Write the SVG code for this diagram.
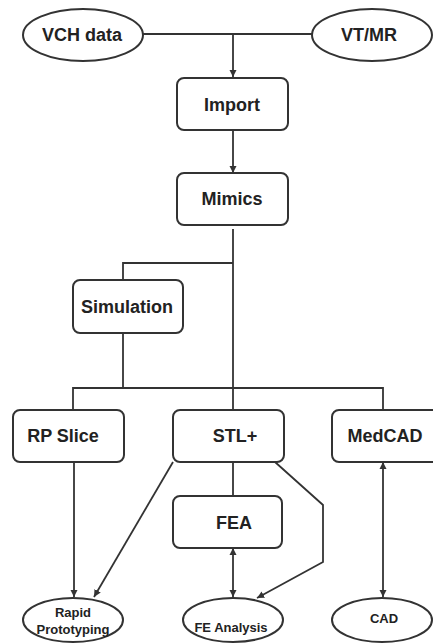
<svg xmlns="http://www.w3.org/2000/svg" width="433" height="643" viewBox="0 0 433 643">
<defs>
<style>
.box{fill:#fff;stroke:#333;stroke-width:2}
.ell{fill:#fff;stroke:#333;stroke-width:2}
.ln{fill:none;stroke:#333;stroke-width:1.8}
.t{font-family:"Liberation Sans",Arial,sans-serif;font-weight:bold;fill:#222;text-anchor:middle}
.big{font-size:18px}
.sm{font-size:13px}
</style>
<marker id="ah" viewBox="0 0 8 8" refX="8" refY="4" markerWidth="4" markerHeight="4" orient="auto-start-reverse" markerUnits="strokeWidth">
<path d="M0,0 L8,4 L0,8 Z" fill="#333"/>
</marker>
</defs>
<rect width="433" height="643" fill="#fff"/>
<g id="connectors">
<line class="ln" x1="143" y1="34" x2="312" y2="34"/>
<line class="ln" x1="233" y1="34" x2="233" y2="77" marker-end="url(#ah)"/>
<line class="ln" x1="233" y1="130" x2="233" y2="173" marker-end="url(#ah)"/>
<line class="ln" x1="233" y1="229" x2="233" y2="410"/>
<polyline class="ln" points="233,263 123,263 123,280"/>
<line class="ln" x1="123" y1="333" x2="123" y2="388"/>
<polyline class="ln" points="73,410 73,388 383,388 383,410"/>
<line class="ln" x1="74" y1="462" x2="74" y2="597" marker-end="url(#ah)"/>
<line class="ln" x1="173" y1="462" x2="94" y2="597" marker-end="url(#ah)"/>
<line class="ln" x1="233" y1="462" x2="233" y2="496"/>
<line class="ln" x1="233" y1="548" x2="233" y2="597" marker-start="url(#ah)" marker-end="url(#ah)"/>
<polyline class="ln" points="275,462 323,505 323,562 257,598" marker-end="url(#ah)"/>
<line class="ln" x1="383" y1="462" x2="383" y2="597" marker-start="url(#ah)" marker-end="url(#ah)"/>
</g>
<g id="vch">
<ellipse class="ell" cx="83" cy="35" rx="60" ry="26"/>
<text class="t big" x="82" y="41">VCH data</text>
</g>
<g id="vtmr">
<ellipse class="ell" cx="372" cy="35" rx="60" ry="26"/>
<text class="t big" x="369" y="41">VT/MR</text>
</g>
<g id="import">
<rect class="box" x="177" y="78" width="111" height="52" rx="7"/>
<text class="t big" x="232" y="111">Import</text>
</g>
<g id="mimics">
<rect class="box" x="177" y="173" width="111" height="52" rx="7"/>
<text class="t big" x="232" y="205">Mimics</text>
</g>
<g id="simulation">
<rect class="box" x="73" y="280" width="110" height="53" rx="7"/>
<text class="t big" x="127" y="313">Simulation</text>
</g>
<g id="rpslice">
<rect class="box" x="13" y="410" width="111" height="52" rx="7"/>
<text class="t big" x="63" y="442">RP Slice</text>
</g>
<g id="stl">
<rect class="box" x="173" y="410" width="111" height="52" rx="7"/>
<text class="t big" x="235" y="442">STL+</text>
</g>
<g id="medcad">
<rect class="box" x="332" y="410" width="112" height="52" rx="7"/>
<text class="t big" x="385" y="442">MedCAD</text>
</g>
<g id="fea">
<rect class="box" x="173" y="496" width="109" height="52" rx="7"/>
<text class="t big" x="234" y="529">FEA</text>
</g>
<g id="rapid">
<ellipse class="ell" cx="73" cy="620" rx="50" ry="22"/>
<text class="t sm" x="73" y="617">Rapid</text>
<text class="t sm" x="73" y="634">Prototyping</text>
</g>
<g id="feanalysis">
<ellipse class="ell" cx="233" cy="620" rx="50" ry="22"/>
<text class="t sm" x="231" y="632">FE Analysis</text>
</g>
<g id="cad">
<ellipse class="ell" cx="382" cy="620" rx="50" ry="22"/>
<text class="t sm" x="384" y="623">CAD</text>
</g>
</svg>
